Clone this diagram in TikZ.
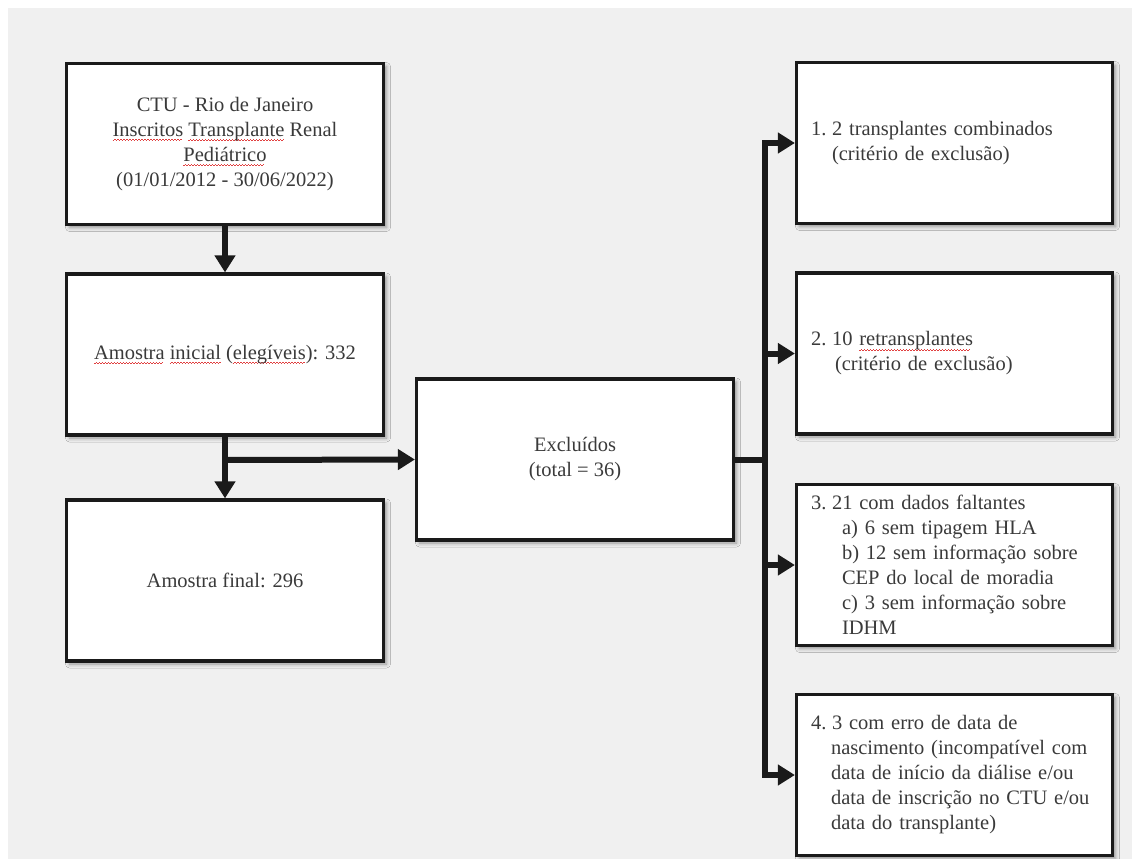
\documentclass[tikz,border=0pt]{standalone}
\usepackage{fontspec}
\setmainfont{Liberation Serif}
\usetikzlibrary{arrows.meta,shadows.blur}
\definecolor{bg}{HTML}{F0F0F0}
\definecolor{ln}{HTML}{1A1A1A}
\definecolor{tx}{HTML}{3A3A3A}
\definecolor{sqc}{HTML}{E04040}
\newcommand\sq[1]{\leavevmode\setbox0\hbox{#1}\rlap{\textcolor{sqc}{\hbox to \wd0{\leaders\hbox{\rule[-4.2pt]{1.5pt}{0.6pt}\rule[-3.4pt]{1.5pt}{0.6pt}}\hfill}}}\box0\relax}
\begin{document}
\begin{tikzpicture}[x=1pt,y=-1pt,
  box/.style={draw=ln, line width=3.2pt, fill=white,
    blur shadow={shadow xshift=3pt, shadow yshift=-3pt, shadow blur radius=4pt, shadow opacity=40},
    text=tx, font=\fontsize{20.5}{25}\selectfont, inner sep=0pt},
  cbox/.style={box, minimum width=317pt, minimum height=161pt, align=center},
  rbox/.style={box, text width=287pt, inner xsep=14.5pt, minimum height=161pt, align=left},
  conn/.style={draw=ln, line width=6pt},
  arr/.style={conn, -{Triangle[length=17pt,width=20pt]}}]
\useasboundingbox (0,0) rectangle (1132,859);
\fill[bg] (8,8) rectangle (1132,859);

\node[cbox] (A) at (225,144) {CTU - Rio de Janeiro\\\sq{Inscritos} \sq{Transplante} Renal\\\sq{Pediátrico}\\(01/01/2012 - 30/06/2022)};
\node[cbox] (B) at (225,354.5) {\sq{Amostra} \sq{inicial} (\sq{elegíveis}): 332};
\node[cbox] (C) at (225,580.5) {Amostra final: 296};
\node[cbox] (E) at (575,459.5) {Excluídos\\(total = 36)};

\node[rbox] (R1) at (954.5,143) {\makebox[21pt][l]{1.}2 transplantes combinados\\\hspace*{21pt}(critério de exclusão)};
\node[rbox] (R2) at (954.5,353.5) {\makebox[21pt][l]{2.}10 \sq{retransplantes}\\\hspace*{24pt}(critério de exclusão)};
\node[rbox] (R3) at (954.5,565) {\makebox[21pt][l]{3.}21 com dados faltantes\\\hspace*{31pt}a) 6 sem tipagem HLA\\\hspace*{31pt}b) 12 sem informação sobre\\\hspace*{31pt}CEP do local de moradia\\\hspace*{31pt}c) 3 sem informação sobre\\\hspace*{31pt}IDHM};
\node[rbox] (R4) at (954.5,775) {\makebox[21pt][l]{4.}3 com erro de data de\\\hspace*{20pt}nascimento (incompatível com\\\hspace*{20pt}data de início da diálise e/ou\\\hspace*{20pt}data de inscrição no CTU e/ou\\\hspace*{20pt}data do transplante)};

\coordinate (k) at (225,460);
\coordinate (j) at (765,459.5);

\draw[arr] (A.south) -- (B.north);
\draw[arr] (B.south) -- (C.north);
\draw[arr] (k) -- (E.west);
\draw[conn] (E.east) -- (j);
\draw[conn] ([yshift=3pt]j |- R1.west) -- ([yshift=-3pt]j |- R4.west);
\draw[arr] ([xshift=-3pt]j |- R1.west) -- (R1.west);
\draw[arr] ([xshift=-3pt]j |- R2.west) -- (R2.west);
\draw[arr] ([xshift=-3pt]j |- R3.west) -- (R3.west);
\draw[arr] ([xshift=-3pt]j |- R4.west) -- (R4.west);
\end{tikzpicture}
\end{document}
